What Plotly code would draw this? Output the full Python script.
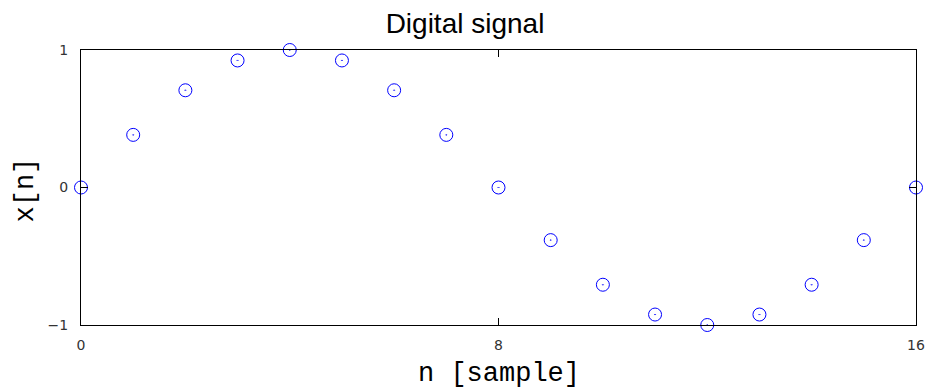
import plotly.graph_objects as go

n_samples = list(range(17))
x_values = [0.0, 0.3827, 0.7071, 0.9239, 1.0, 0.9239, 0.7071, 0.3827, 0.0,
            -0.3827, -0.7071, -0.9239, -1.0, -0.9239, -0.7071, -0.3827, 0.0]
x_ticks = [0, 8, 16]
y_ticks = [-1, 0, 1]
y_tick_labels = ["\u22121", "0", "1"]

fig = go.Figure()
fig.add_trace(go.Scatter(
    x=n_samples, y=x_values, mode="markers",
    marker=dict(symbol="circle-dot", size=13, color="rgba(0,0,0,0)",
                line=dict(color="#0000ff", width=1)),
    cliponaxis=False, showlegend=False,
))

axis_common = dict(
    showgrid=False, zeroline=False, showline=True, linecolor="#000000",
    linewidth=1, mirror="ticks", ticks="inside", ticklen=7, tickcolor="#000000",
    tickfont=dict(family="DejaVu Sans", size=14, color="#333333"),
    automargin=False,
)
fig.update_xaxes(range=[0, 16], tickvals=x_ticks, ticktext=[str(t) for t in x_ticks],
                 ticklabelstandoff=7, **axis_common)
fig.update_yaxes(range=[-1, 1], tickvals=y_ticks, ticktext=y_tick_labels,
                 ticklabelstandoff=9, **axis_common)

title_font = dict(family="Liberation Mono", size=27, color="#000000")
fig.add_annotation(text="n [sample]", xref="paper", yref="paper", x=0.5, y=0,
                   xanchor="center", yanchor="middle", yshift=-49, borderpad=0,
                   showarrow=False, font=title_font)
fig.add_annotation(text="x[n]", xref="paper", yref="paper", x=0, y=0.5,
                   xanchor="center", yanchor="middle", xshift=-56, yshift=-3,
                   borderpad=0, textangle=-90, showarrow=False, font=title_font)

fig.update_layout(
    width=930, height=389,
    margin=dict(l=81, r=14, t=50, b=64),
    plot_bgcolor="white", paper_bgcolor="white",
    title=dict(text="Digital signal", x=0.5, xanchor="center", y=0.94, yanchor="middle",
               font=dict(family="Liberation Sans", size=28, color="#000000")),
)
fig.write_html("out.html")
